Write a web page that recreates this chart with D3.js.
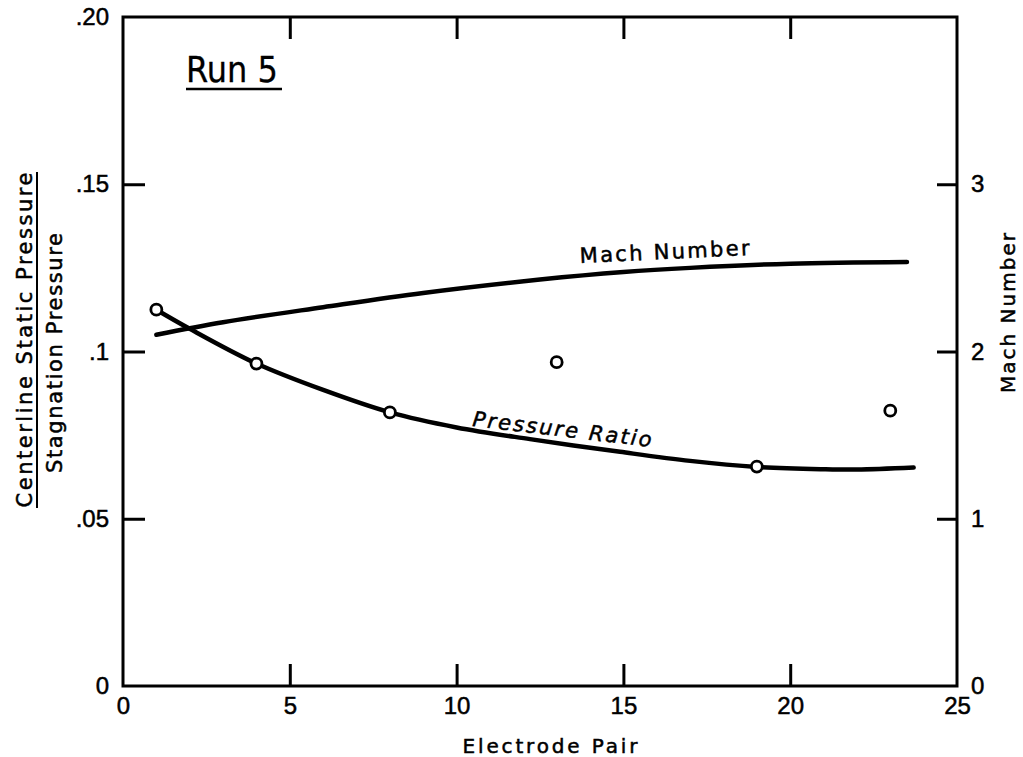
<!DOCTYPE html>
<html>
<head>
<meta charset="utf-8">
<script src="https://cdn.jsdelivr.net/npm/d3@7"></script>
<style>
  body { margin: 0; background: #fff; }
  svg { display: block; font-family: "DejaVu Sans", sans-serif; }
  svg text { fill: #000; stroke: #000; stroke-width: 0.5px; }
</style>
</head>
<body>
<div id="chart"></div>
<script>
// electrode pair ticks and axis ticks
const xTicks = [0, 5, 10, 15, 20, 25];
const yTicks = [0, 0.05, 0.1, 0.15, 0.2];
const yTickLabels = ["0", ".05", ".1", ".15", ".20"];
const machTicks = [0, 1, 2, 3];

// measured pressure ratio (open circles)
const pointX = [1, 4, 8, 13, 19, 23];
const pointY = [0.1125, 0.0964, 0.0818, 0.0968, 0.0656, 0.0823];

// faired pressure ratio curve
const pressX = [1, 2, 4, 6, 8, 10, 12.2, 14.9, 17, 19, 21, 22, 23.7];
const pressY = [0.1125, 0.1068, 0.0964, 0.0885, 0.0818, 0.0773, 0.0738, 0.07, 0.0673, 0.0655, 0.0648, 0.0647, 0.0653];

// mach number curve (right axis)
const machX = [1, 3, 6, 9, 12.5, 15, 17, 20, 23.5];
const machY = [2.1, 2.175, 2.265, 2.35, 2.43, 2.475, 2.5, 2.525, 2.535];

const width = 1023, height = 757;
const mLeft = 123, mRight = 957, mTop = 17, mBottom = 686;

const svg = d3.select("#chart").append("svg")
  .attr("width", width)
  .attr("height", height);

const x = d3.scaleLinear().domain([0, 25]).range([mLeft, mRight]);
const y = d3.scaleLinear().domain([0, 0.2]).range([mBottom, mTop]);
const yR = d3.scaleLinear().domain([0, 4]).range([mBottom, mTop]);

// frame
svg.append("rect")
  .attr("x", mLeft).attr("y", mTop)
  .attr("width", mRight - mLeft).attr("height", mBottom - mTop)
  .attr("fill", "none").attr("stroke", "#000").attr("stroke-width", 3);

function styleAxis(g) {
  g.select(".domain").remove();
  g.selectAll(".tick line").attr("stroke", "#000").attr("stroke-width", 3);
  g.selectAll(".tick text").attr("font-size", 24);
}

svg.append("g")
  .attr("transform", `translate(0,${mBottom})`)
  .call(d3.axisBottom(x).tickValues(xTicks).tickSize(-22).tickPadding(11).tickFormat(d3.format("d")))
  .call(styleAxis)
  .call(g => g.selectAll(".tick line").filter(d => d === 0 || d === 25).remove());

svg.append("g")
  .attr("transform", `translate(0,${mTop})`)
  .call(d3.axisTop(x).tickValues(xTicks.slice(1, -1)).tickSize(-22).tickFormat(""))
  .call(styleAxis);

svg.append("g")
  .attr("transform", `translate(${mLeft},0)`)
  .call(d3.axisLeft(y).tickValues(yTicks).tickSize(-22).tickPadding(14)
    .tickFormat((d, i) => yTickLabels[i]))
  .call(styleAxis)
  .call(g => g.selectAll(".tick line").filter(d => d === 0 || d === 0.2).remove());

svg.append("g")
  .attr("transform", `translate(${mRight},0)`)
  .call(d3.axisRight(yR).tickValues(machTicks).tickSize(-20).tickPadding(14).tickFormat(d3.format("d")))
  .call(styleAxis)
  .call(g => g.selectAll(".tick line").filter(d => d === 0).remove());

// curves
const line = d3.line().curve(d3.curveCatmullRom.alpha(0.5));

svg.append("path")
  .attr("d", line(machX.map((v, i) => [x(v), yR(machY[i])])))
  .attr("fill", "none").attr("stroke", "#000").attr("stroke-width", 4.5)
  .attr("stroke-linecap", "round");

svg.append("path")
  .attr("d", line(pressX.map((v, i) => [x(v), y(pressY[i])])))
  .attr("fill", "none").attr("stroke", "#000").attr("stroke-width", 4.5)
  .attr("stroke-linecap", "round");

svg.selectAll("circle.pt")
  .data(pointX.map((v, i) => [v, pointY[i]]))
  .join("circle")
  .attr("class", "pt")
  .attr("cx", d => x(d[0]))
  .attr("cy", d => y(d[1]))
  .attr("r", 5.5)
  .attr("fill", "#fff").attr("stroke", "#000").attr("stroke-width", 2.8);

// curve labels
svg.append("text")
  .attr("transform", "translate(580,263) rotate(-2.7)")
  .attr("font-size", 21).attr("textLength", 170).attr("lengthAdjust", "spacing")
  .text("Mach Number");

svg.append("text")
  .attr("transform", "translate(472,426) rotate(6.7)")
  .attr("font-size", 21).attr("font-style", "italic")
  .attr("textLength", 180).attr("lengthAdjust", "spacing")
  .text("Pressure Ratio");

// Run 5
svg.append("text")
  .attr("x", 186).attr("y", 82)
  .attr("font-size", 35).attr("textLength", 92).attr("lengthAdjust", "spacingAndGlyphs")
  .style("stroke-width", "0.3px")
  .text("Run 5");
svg.append("line")
  .attr("x1", 186).attr("x2", 282).attr("y1", 89).attr("y2", 89)
  .attr("stroke", "#000").attr("stroke-width", 2.5);

// axis titles
svg.append("text")
  .attr("x", 550).attr("y", 753)
  .attr("text-anchor", "middle").attr("font-size", 20)
  .attr("textLength", 175).attr("lengthAdjust", "spacing")
  .text("Electrode Pair");

svg.append("text")
  .attr("transform", "translate(32,340) rotate(-90)")
  .attr("text-anchor", "middle").attr("font-size", 21)
  .attr("textLength", 335).attr("lengthAdjust", "spacing")
  .text("Centerline Static Pressure");
svg.append("text")
  .attr("transform", "translate(62,353) rotate(-90)")
  .attr("text-anchor", "middle").attr("font-size", 21)
  .attr("textLength", 240).attr("lengthAdjust", "spacing")
  .text("Stagnation Pressure");
svg.append("line")
  .attr("x1", 37).attr("x2", 37)
  .attr("y1", 172).attr("y2", 508)
  .attr("stroke", "#000").attr("stroke-width", 2);

svg.append("text")
  .attr("transform", "translate(1015,313) rotate(-90)")
  .attr("text-anchor", "middle").attr("font-size", 20)
  .attr("textLength", 160).attr("lengthAdjust", "spacing")
  .text("Mach Number");
</script>
</body>
</html>
